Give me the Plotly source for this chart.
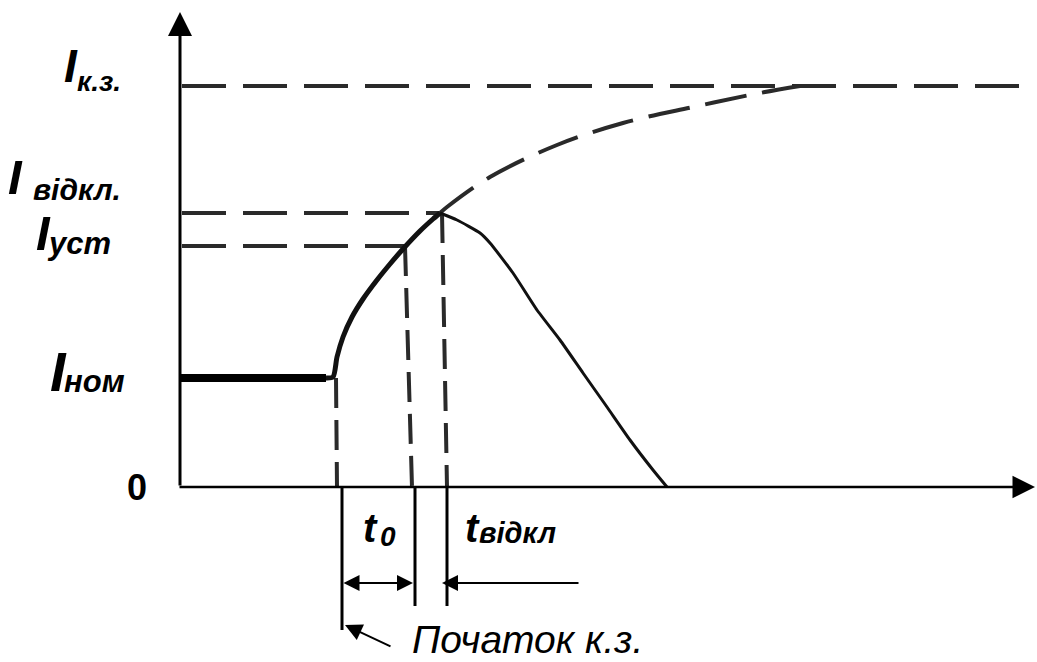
import plotly.graph_objects as go

# ---- data (schematic: time and current in arbitrary units) ----
I_nom = 10.9
I_ust = 24.1
I_vidkl = 27.4
I_kz = 40.1

nominal_t = [0.0, 14.6]
nominal_I = [I_nom, I_nom]

rise_t = [14.6, 15.3, 15.7, 16.3, 17.2, 18.3, 19.7, 21.0, 22.3, 24.0, 25.3, 26.0]
rise_I = [10.9, 11.0, 13.0, 15.0, 17.0, 18.8, 20.7, 22.3, 23.8, 25.6, 26.8, 27.4]

fall_t = [26.0, 27.7, 30.0, 31.0, 33.3, 35.7, 38.0, 40.3, 42.7, 45.0, 47.3, 48.7]
fall_I = [27.4, 26.7, 25.4, 24.4, 21.4, 17.7, 14.7, 11.4, 8.0, 4.7, 1.7, 0.0]

env_t = [26.0, 26.7, 31.0, 37.7, 44.3, 51.3, 58.0, 62.0]
env_I = [27.4, 28.0, 31.0, 34.2, 36.4, 38.0, 39.4, 40.1]

level_I = [I_kz, I_vidkl, I_ust]
level_t_start = [0.2, 0.2, 0.2]
level_t_end = [84.7, 26.0, 22.5]

drop_t_top = [15.6, 22.5, 26.2]
drop_t_bottom = [15.7, 23.2, 26.7]
drop_I_top = [I_nom, I_ust, I_vidkl]

mark_t = [16.2, 23.5, 26.7]
mark_bottom = [-14.3, -11.9, -11.9]

arrow_level = -9.6
t0_span = [16.2, 23.3]
toff_arrow = [40.0, 26.2]
start_note_tail = [21.2, -16.0]
start_note_head = [16.5, -13.8]

x_axis_end = 85.5
y_axis_end = 47.5

X_RANGE = [-18.0, 85.7]
Y_RANGE = [-17.5, 48.7]
W, H = 1037, 662

INK = "#111111"
DASH_INK = "#2a2a2a"

fig = go.Figure()

# horizontal dashed levels
for lv, ts, te in zip(level_I, level_t_start, level_t_end):
    fig.add_trace(go.Scatter(x=[ts, te], y=[lv, lv], mode="lines",
                             line=dict(color=DASH_INK, width=4, dash="44px,17px"),
                             hoverinfo="skip"))

# vertical dashed drops
for tt, tb, it in zip(drop_t_top, drop_t_bottom, drop_I_top):
    fig.add_trace(go.Scatter(x=[tt, tb], y=[it, 0], mode="lines",
                             line=dict(color=DASH_INK, width=4, dash="30px,12px"),
                             hoverinfo="skip"))

# envelope (dashed continuation)
fig.add_trace(go.Scatter(x=env_t, y=env_I, mode="lines", line_shape="spline",
                         line=dict(color=DASH_INK, width=4, dash="42px,16px"),
                         hoverinfo="skip"))

# nominal current
fig.add_trace(go.Scatter(x=nominal_t, y=nominal_I, mode="lines",
                         line=dict(color="#000000", width=8), hoverinfo="skip"))
# rising current
fig.add_trace(go.Scatter(x=rise_t, y=rise_I, mode="lines", line_shape="spline",
                         line=dict(color=INK, width=5, smoothing=0.7), hoverinfo="skip"))
# falling current after disconnection
fig.add_trace(go.Scatter(x=fall_t, y=fall_I, mode="lines", line_shape="spline",
                         line=dict(color=INK, width=3, smoothing=0.5), hoverinfo="skip"))

# marker lines below axis
for mt, mb in zip(mark_t, mark_bottom):
    fig.add_trace(go.Scatter(x=[mt, mt], y=[0, mb], mode="lines",
                             line=dict(color="#000000", width=3), hoverinfo="skip"))

ann = []
# axes arrows
ann.append(dict(x=0, y=y_axis_end, ax=0, ay=0, xref="x", yref="y", axref="x", ayref="y",
                text="", showarrow=True, arrowhead=2, arrowsize=1.6, arrowwidth=3,
                arrowcolor="#000000", standoff=0))
ann.append(dict(x=x_axis_end, y=0, ax=-0.2, ay=0, xref="x", yref="y", axref="x", ayref="y",
                text="", showarrow=True, arrowhead=2, arrowsize=1.8, arrowwidth=2.5,
                arrowcolor="#000000", standoff=0))
# t0 double arrow
ann.append(dict(x=t0_span[1], y=arrow_level, ax=t0_span[0], ay=arrow_level,
                xref="x", yref="y", axref="x", ayref="y", text="", showarrow=True,
                arrowhead=2, startarrowhead=2, arrowside="end+start",
                arrowsize=1.6, startarrowsize=1.6, arrowwidth=2, arrowcolor="#000000"))
# t_off arrow
ann.append(dict(x=toff_arrow[1], y=arrow_level, ax=toff_arrow[0], ay=arrow_level,
                xref="x", yref="y", axref="x", ayref="y", text="", showarrow=True,
                arrowhead=2, arrowsize=1.6, arrowwidth=2, arrowcolor="#000000"))
# start of short circuit pointer
ann.append(dict(x=start_note_head[0], y=start_note_head[1],
                ax=start_note_tail[0], ay=start_note_tail[1],
                xref="x", yref="y", axref="x", ayref="y", text="", showarrow=True,
                arrowhead=2, arrowsize=1.7, arrowwidth=2, arrowcolor="#000000"))


def label(text, px, py, size, bold=True, italic=True, xanchor="left"):
    ann.append(dict(x=px / W, y=1 - py / H, xref="paper", yref="paper", text=text,
                    showarrow=False, xanchor=xanchor, yanchor="middle",
                    font=dict(family="Liberation Sans, Arial, sans-serif", size=size,
                              color="#000000",
                              weight="bold" if bold else "normal",
                              style="italic" if italic else "normal")))


label("I", 62, 66.5, 46)
label("к.з.", 75, 81, 28)
label("I", 6, 177, 49)
label("відкл.", 31, 189, 30)
label("I", 34, 232.5, 49)
label("уст", 45, 243, 31)
label("I", 48, 371, 56)
label("ном", 62, 381, 31)
label("0", 137, 487, 36, italic=False, xanchor="center")
label("t", 361, 527.5, 40)
label("0", 378, 536, 28)
label("t", 463, 527.5, 40)
label("відкл", 477, 533, 29)
label("Початок к.з.", 410, 639.5, 39, bold=False)

fig.update_layout(
    width=W, height=H, autosize=False,
    margin=dict(l=0, r=0, t=0, b=0),
    paper_bgcolor="white", plot_bgcolor="white",
    showlegend=False, hovermode=False,
    xaxis=dict(range=X_RANGE, visible=False, fixedrange=True),
    yaxis=dict(range=Y_RANGE, visible=False, fixedrange=True),
    annotations=ann,
)

fig.write_html("out.html", config={"displayModeBar": False},
               post_script="document.body.style.margin='0';document.body.style.padding='0';")
